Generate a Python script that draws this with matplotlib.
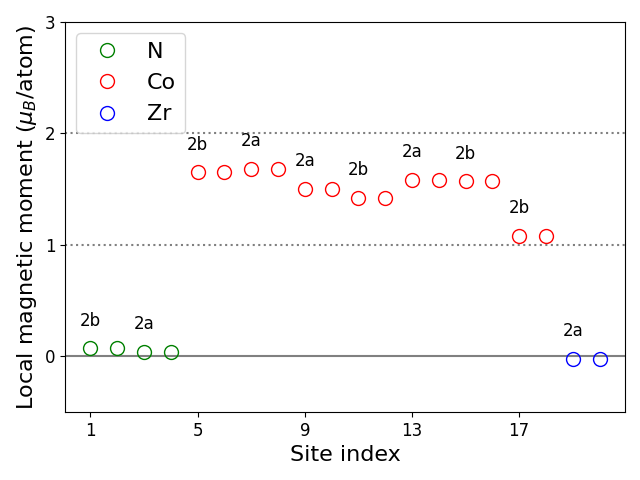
import matplotlib
matplotlib.use("Agg")
import matplotlib.pyplot as plt

n_sites = [1, 2, 3, 4]
n_mom = [0.07, 0.07, 0.04, 0.04]
co_sites = list(range(5, 19))
co_mom = [1.65, 1.65, 1.68, 1.68, 1.50, 1.50, 1.42, 1.42, 1.58, 1.58, 1.57, 1.57, 1.08, 1.08]
zr_sites = [19, 20]
zr_mom = [-0.02, -0.02]

wyckoff_sites = [1, 3, 5, 7, 9, 11, 13, 15, 17, 19]
wyckoff_labels = ["2b", "2a", "2b", "2a", "2a", "2b", "2a", "2b", "2b", "2a"]

fig, ax = plt.subplots(figsize=(6.4, 4.8), dpi=100)
ax.axhline(0, color="gray", lw=1.5, zorder=1)
ax.axhline(1, color="gray", lw=1.5, ls=":", zorder=1)
ax.axhline(2, color="gray", lw=1.5, ls=":", zorder=1)

ax.plot(n_sites, n_mom, "o", mfc="none", mec="green", ms=10, label="N")
ax.plot(co_sites, co_mom, "o", mfc="none", mec="red", ms=10, label="Co")
ax.plot(zr_sites, zr_mom, "o", mfc="none", mec="blue", ms=10, label="Zr")

all_s = n_sites + co_sites + zr_sites
all_m = n_mom + co_mom + zr_mom
lookup = dict(zip(all_s, all_m))
for s, lab in zip(wyckoff_sites, wyckoff_labels):
    ax.text(s, lookup[s] + 0.25, lab, ha="center", va="center", fontsize=12)

ax.set_ylim(-0.5, 3)
ax.set_yticks([0, 1, 2, 3])
ax.set_xticks([1, 5, 9, 13, 17])
ax.tick_params(labelsize=12)
ax.set_xlabel("Site index", fontsize=16)
ax.set_ylabel(r"Local magnetic moment ($\mu_B$/atom)", fontsize=16)
ax.legend(loc="upper left", fontsize=16)

fig.subplots_adjust(left=0.1016, right=0.9766, top=0.954, bottom=0.1417)
fig.savefig("out.png", dpi=100)
